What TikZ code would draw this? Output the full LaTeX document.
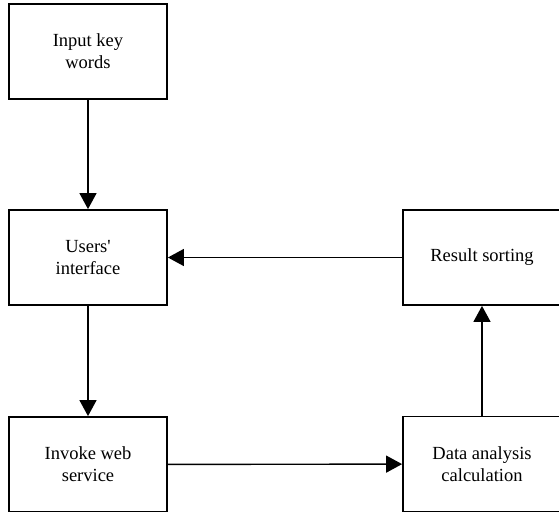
\documentclass[tikz,border=0pt]{standalone}
\usepackage{fontspec}
\setmainfont{Liberation Serif}[Ligatures=TeXOff]
\usetikzlibrary{arrows.meta}
\begin{document}
\begin{tikzpicture}[x=1pt,y=-1pt,
  box/.style={draw,line width=1.8pt,minimum width=158pt,minimum height=95pt,align=center,font=\fontsize{18.5}{22}\selectfont,inner sep=0pt},
  conn/.style={line width=1.4pt,-{Triangle[length=16pt,width=17pt]}}]
\useasboundingbox (0,0) rectangle (559,511);
\clip (0,0) rectangle (559,511);
\node[box] (a) at (88,51.5) {Input key\\words};
\node[box] (b) at (88,257.5) {Users'\\interface};
\node[box] (c) at (88,464.5) {Invoke web\\service};
\node[box] (d) at (482,257.5) {Result sorting};
\node[box] (e) at (482,464) {Data analysis\\calculation};
\draw[conn] (a) -- (b);
\draw[conn] (b) -- (c);
\draw[conn] (c) -- (e);
\draw[conn] (e) -- (d);
\draw[conn] (d) -- (b);
\end{tikzpicture}
\end{document}
